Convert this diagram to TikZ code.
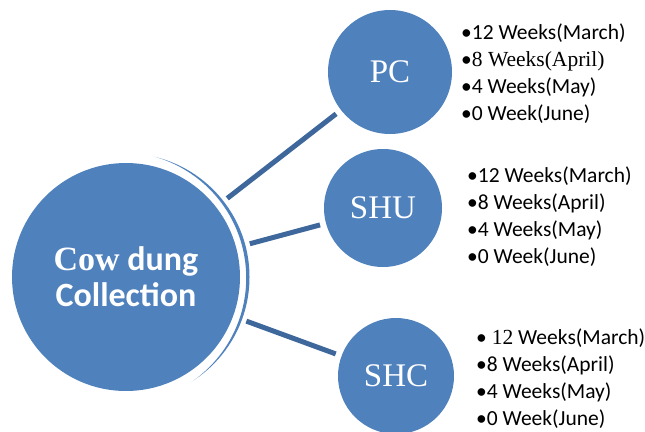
\documentclass[tikz,border=0pt]{standalone}
\usepackage{fontspec}
\setmainfont{Carlito}
\newfontfamily\seriffont{Liberation Serif}
\definecolor{bubblefill}{RGB}{79,129,189}
\definecolor{spokeline}{RGB}{62,103,155}

\begin{document}
\begin{tikzpicture}[x=1pt,y=-1pt]

      \useasboundingbox (0,0) rectangle (645,431);

      % thin crescent to the right of the big circle
      \begin{scope}
        \clip (126,277) circle (123.5);
        \fill[bubblefill,even odd rule] (0,140) rectangle (260,420)
          (120.1,278) circle (126.1);
      \end{scope}

      \begin{scope}[every node/.style={circle,fill=bubblefill,text=white,inner sep=0pt}]
        \node[minimum size=228pt,align=center,font=\bfseries\fontsize{34}{36}\selectfont] (cow) at (126,277)
          {{\seriffont Cow} dung\\Collection};
        \node[minimum size=124pt,font=\seriffont\fontsize{33}{36}\selectfont] (pc) at (390,72) {PC};
        \node[minimum size=118pt,font=\seriffont\fontsize{33}{36}\selectfont] (shu) at (383,208) {SHU};
        \node[minimum size=116pt,font=\seriffont\fontsize{33}{36}\selectfont] (shc) at (396,376) {SHC};
      \end{scope}

      \begin{scope}[every edge/.style={draw=spokeline,line width=5pt,shorten <=14pt,shorten >=6pt}]
        \path (cow) edge (pc);
        \path (cow) edge (shu);
        \path (cow) edge (shc);
      \end{scope}

      % lists: anchored at the baseline of their last line
      \begin{scope}[every node/.style={anchor=base west,align=left,inner sep=0pt,
          font=\fontsize{21.5}{27}\selectfont}]
        \node (pclist) at (461,120)
          {\textbullet12 Weeks(March)\\
           \textbullet{\seriffont 8 Weeks(April)}\\
           \textbullet4 Weeks(May)\\
           \textbullet0 Week(June)};
        \node (shulist) at (467,263)
          {\textbullet12 Weeks(March)\\
           \textbullet8 Weeks(April)\\
           \textbullet4 Weeks(May)\\
           \textbullet0 Week(June)};
        \node (shclist) at (476,425)
          {\textbullet\ {\seriffont 12} Weeks(March)\\
           \textbullet8 Weeks(April)\\
           \textbullet4 Weeks(May)\\
           \textbullet0 Week(June)};
      \end{scope}

    \end{tikzpicture}
\end{document}
